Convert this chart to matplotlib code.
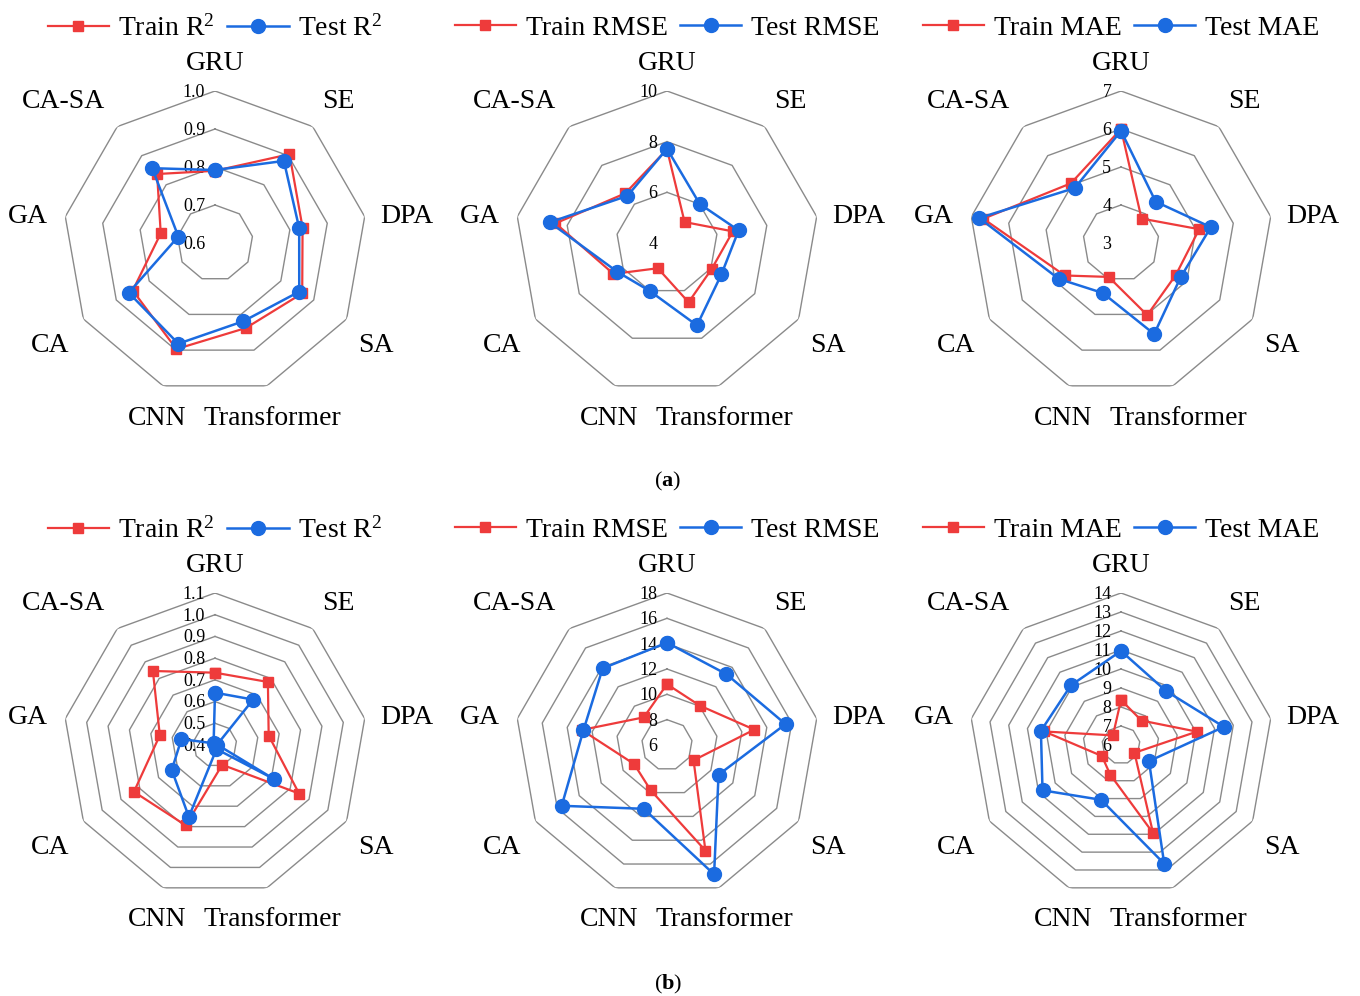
import numpy as np
import matplotlib
matplotlib.use('Agg')
import matplotlib.pyplot as plt

plt.rcParams['font.family'] = ['Liberation Serif', 'DejaVu Serif']
plt.rcParams['mathtext.fontset'] = 'custom'
plt.rcParams['mathtext.rm'] = 'Liberation Serif'
plt.rcParams['mathtext.it'] = 'Liberation Serif:italic'
plt.rcParams['mathtext.bf'] = 'Liberation Serif:bold'

categories = ['GRU', 'SE', 'DPA', 'SA', 'Transformer', 'CNN', 'CA', 'GA', 'CA-SA']

# (a) dataset
a_r2_train = [0.790, 0.905, 0.834, 0.865, 0.838, 0.897, 0.850, 0.745, 0.837]
a_r2_test = [0.792, 0.882, 0.825, 0.856, 0.819, 0.882, 0.862, 0.698, 0.857]
a_rmse_train = [7.70, 5.08, 6.64, 6.04, 6.49, 5.06, 6.44, 8.47, 6.56]
a_rmse_test = [7.72, 6.01, 6.87, 6.48, 7.46, 6.01, 6.27, 8.70, 6.43]
a_mae_train = [6.00, 3.84, 5.09, 4.67, 5.02, 3.95, 4.71, 6.68, 5.05]
a_mae_test = [5.95, 4.42, 5.40, 4.81, 5.55, 4.40, 4.89, 6.79, 4.89]

# (b) dataset
b_r2_train = [0.733, 0.779, 0.651, 0.847, 0.497, 0.794, 0.831, 0.658, 0.845]
b_r2_test = [0.641, 0.673, 0.410, 0.712, 0.420, 0.752, 0.630, 0.557, 0.410]
b_rmse_train = [10.80, 10.05, 13.00, 8.42, 14.87, 9.79, 9.00, 12.84, 8.85]
b_rmse_test = [14.08, 13.30, 15.50, 10.70, 16.87, 11.36, 15.60, 12.70, 13.90]
b_mae_train = [8.37, 7.68, 10.05, 6.82, 10.93, 7.66, 7.16, 10.10, 6.66]
b_mae_test = [10.95, 9.70, 11.50, 7.70, 12.65, 9.07, 10.77, 10.28, 10.10]

# radial ticks (first value sits at the centre)
a_r2_ticks = [0.6, 0.7, 0.8, 0.9, 1.0]
a_rmse_ticks = [4, 6, 8, 10]
a_mae_ticks = [3, 4, 5, 6, 7]
b_r2_ticks = [0.4, 0.5, 0.6, 0.7, 0.8, 0.9, 1.0, 1.1]
b_rmse_ticks = [6, 8, 10, 12, 14, 16, 18]
b_mae_ticks = [6, 7, 8, 9, 10, 11, 12, 13, 14]

RED = '#EE3B3B'
BLUE = '#1B6BE0'
GRID = '#8a8a8a'

W, H = 1360, 996
R = 152
cx = [215, 667, 1121]
cy = [243, 745]

angles = np.linspace(0, 2 * np.pi, len(categories), endpoint=False)
closed = np.append(angles, angles[0])
# category name offsets from the chart centre, in pixels (x right, y up)
name_offsets = [(0, 180), (123, 142), (192, 27), (161, -102), (57, -175),
                (-58, -175), (-165, -102), (-187, 27), (-152, 142)]

panels = [
    (0, 0, a_r2_train, a_r2_test, a_r2_ticks, r'R$^{2}$', '{:.1f}'),
    (1, 0, a_rmse_train, a_rmse_test, a_rmse_ticks, 'RMSE', '{:d}'),
    (2, 0, a_mae_train, a_mae_test, a_mae_ticks, 'MAE', '{:d}'),
    (0, 1, b_r2_train, b_r2_test, b_r2_ticks, r'R$^{2}$', '{:.1f}'),
    (1, 1, b_rmse_train, b_rmse_test, b_rmse_ticks, 'RMSE', '{:d}'),
    (2, 1, b_mae_train, b_mae_test, b_mae_ticks, 'MAE', '{:d}'),
]

fig = plt.figure(figsize=(W / 100, H / 100), dpi=100)

for col, row, train, test, ticks, metric, fmt in panels:
    x0, y0 = cx[col], cy[row]
    rect = [(x0 - R) / W, (H - y0 - R) / H, 2 * R / W, 2 * R / H]
    ax = fig.add_axes(rect, projection='polar')
    ax.set_theta_offset(np.pi / 2)
    ax.set_theta_direction(-1)
    rmin, rmax = ticks[0], ticks[-1]
    ax.set_ylim(rmin, rmax)
    ax.grid(False)
    ax.spines['polar'].set_visible(False)
    ax.set_xticks([])
    ax.set_yticks([])
    ax.patch.set_alpha(0)

    # polygon rings
    for v in ticks[1:]:
        ax.plot(closed, [v] * len(closed), color=GRID, lw=1.0, zorder=1)

    for v in ticks:
        ax.annotate(fmt.format(v), xy=(0, v), xytext=(-7, -1),
                    textcoords='offset points', ha='right', va='center',
                    fontsize=13, zorder=2)

    l1, = ax.plot(closed, train + train[:1], color=RED, lw=1.6,
                  marker='s', ms=7.5, label=f'Train {metric}', zorder=3,
                  clip_on=False)
    l2, = ax.plot(closed, test + test[:1], color=BLUE, lw=1.8,
                  marker='o', ms=10, label=f'Test {metric}', zorder=4,
                  clip_on=False)

    for name, (dx, dy) in zip(categories, name_offsets):
        ax.annotate(name, xy=(0, rmin), xytext=(dx * 0.72, dy * 0.72),
                    textcoords='offset points', ha='center', va='center',
                    fontsize=20)

    ax.legend(handles=[l1, l2], loc='center', bbox_to_anchor=(0.5, 1.207),
              ncol=2, frameon=False, fontsize=20, numpoints=1,
              handlelength=2.2, handletextpad=0.35, columnspacing=0.45,
              borderpad=0, borderaxespad=0)

fig.text(668 / W, 1 - 481 / H, r'($\mathbf{a}$)', ha='center', va='center',
         fontsize=16)
fig.text(668 / W, 1 - 984 / H, r'($\mathbf{b}$)', ha='center', va='center',
         fontsize=16)

fig.savefig('out.png', dpi=100)
